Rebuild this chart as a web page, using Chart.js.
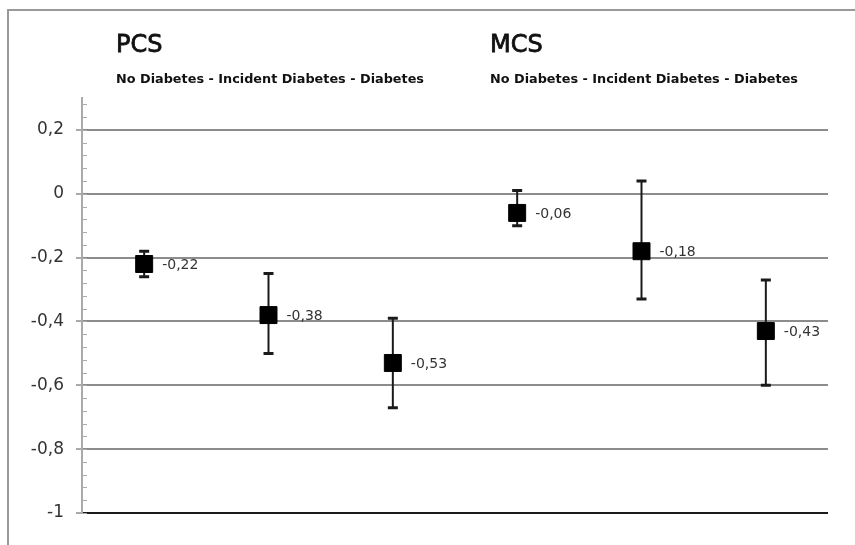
<!DOCTYPE html>
<html lang="en">
<head>
    <meta charset="UTF-8">
    <title>PCS / MCS by diabetes status</title>
    <script src="https://cdn.jsdelivr.net/npm/chart.js"></script>
    <style>
        html, body { margin: 0; padding: 0; background: #fff; }
        #wrap { width: 855px; height: 545px; }
    </style>
</head>
<body>
    <div id="wrap"><canvas id="chart" width="855" height="545"></canvas></div>

    <script>
        // groups shown above the plot
        var groups = ['PCS', 'MCS'];
        var groupSubtitle = 'No Diabetes - Incident Diabetes - Diabetes';

        // one point per group x status
        var categories = ['PCS No Diabetes', 'PCS Incident Diabetes', 'PCS Diabetes',
                          'MCS No Diabetes', 'MCS Incident Diabetes', 'MCS Diabetes'];
        var means = [-0.22, -0.38, -0.53, -0.06, -0.18, -0.43];
        var upper = [-0.18, -0.25, -0.39, 0.01, 0.04, -0.27];
        var lower = [-0.26, -0.50, -0.67, -0.10, -0.33, -0.60];

        // y axis
        var yTicks = [-1, -0.8, -0.6, -0.4, -0.2, 0, 0.2];
        var yMin = -1, yMax = 0.3, yMinorStep = 0.04;

        function fmt(v) {
            var s = (Math.abs(v) < 1e-9) ? '0' : String(Math.round(v * 100) / 100);
            return s.replace('.', ',');
        }

        var textFont = '"DejaVu Sans", Verdana, sans-serif';

        // error bars, value labels, minor ticks, titles and frame
        var extras = {
            id: 'extras',
            beforeDatasetsDraw: function(chart) {
                var ctx = chart.ctx, x = chart.scales.x, y = chart.scales.y;
                ctx.save();
                ctx.strokeStyle = '#1a1a1a';
                for (var i = 0; i < means.length; i++) {
                    var px = x.getPixelForValue(i);
                    var yt = y.getPixelForValue(upper[i]);
                    var yb = y.getPixelForValue(lower[i]);
                    ctx.lineWidth = 2;
                    ctx.beginPath();
                    ctx.moveTo(px, yt); ctx.lineTo(px, yb);
                    ctx.stroke();
                    ctx.lineWidth = 3;
                    ctx.beginPath();
                    ctx.moveTo(px - 5, yt); ctx.lineTo(px + 5, yt);
                    ctx.moveTo(px - 5, yb); ctx.lineTo(px + 5, yb);
                    ctx.stroke();
                }
                ctx.restore();
            },
            afterDraw: function(chart) {
                var ctx = chart.ctx, x = chart.scales.x, y = chart.scales.y;
                var area = chart.chartArea;
                ctx.save();

                // minor ticks on the y axis line
                ctx.strokeStyle = '#aaa';
                ctx.lineWidth = 1;
                ctx.beginPath();
                for (var v = yMin; v <= yMax + 1e-9; v += yMinorStep) {
                    var py = Math.round(y.getPixelForValue(v)) + 0.5;
                    ctx.moveTo(area.left, py); ctx.lineTo(area.left + 5, py);
                }
                ctx.stroke();

                // value labels next to markers
                ctx.fillStyle = '#333';
                ctx.font = '14px ' + textFont;
                ctx.textAlign = 'left';
                ctx.textBaseline = 'middle';
                for (var i = 0; i < means.length; i++) {
                    ctx.fillText(fmt(means[i]), x.getPixelForValue(i) + 18, y.getPixelForValue(means[i]) + 1);
                }

                // group titles (semi-bold look: regular + thin stroke)
                ctx.fillStyle = '#111';
                ctx.strokeStyle = '#111';
                ctx.textBaseline = 'alphabetic';
                var titleX = [116, 490];
                for (var g = 0; g < groups.length; g++) {
                    var mw = groups[g] === 'PCS' ? 47 : 56;
                    ctx.font = '24px ' + textFont;
                    ctx.lineWidth = 0.8;
                    ctx.fillText(groups[g], titleX[g], 52, mw);
                    ctx.strokeText(groups[g], titleX[g], 52, mw);
                    ctx.font = 'bold 13px ' + textFont;
                    ctx.fillText(groupSubtitle, titleX[g], 83, 308);
                }

                // outer frame (top and left edges)
                ctx.strokeStyle = '#9a9a9a';
                ctx.lineWidth = 2;
                ctx.beginPath();
                ctx.moveTo(8, 545); ctx.lineTo(8, 10); ctx.lineTo(855, 10);
                ctx.stroke();
                ctx.restore();
            }
        };

        var ctx = document.getElementById('chart').getContext('2d');
        var chart = new Chart(ctx, {
            type: 'line',
            data: {
                labels: categories,
                datasets: [{
                    data: means,
                    showLine: false,
                    pointStyle: 'rect',
                    pointRadius: 12,
                    pointHoverRadius: 12,
                    backgroundColor: '#000',
                    borderColor: '#000',
                    borderWidth: 1
                }]
            },
            options: {
                responsive: false,
                animation: false,
                events: [],
                layout: { padding: { top: 98, right: 27, bottom: 32, left: 0 } },
                plugins: { legend: { display: false }, tooltip: { enabled: false } },
                scales: {
                    x: {
                        type: 'category',
                        offset: true,
                        display: false
                    },
                    y: {
                        min: yMin,
                        max: yMax,
                        afterBuildTicks: function(scale) {
                            scale.ticks = yTicks.map(function(v) { return { value: v }; });
                        },
                        afterFit: function(scale) { scale.width = 82; },
                        ticks: {
                            callback: function(v) { return fmt(v); },
                            color: '#333',
                            padding: 12,
                            font: { family: textFont, size: 17 }
                        },
                        grid: {
                            lineWidth: 2,
                            tickLength: 6,
                            color: function(c) { return (c.tick && c.tick.value === -1) ? '#1a1a1a' : '#8c8c8c'; },
                            tickColor: '#aaa'
                        },
                        border: { display: true, color: '#aaa', width: 2 }
                    }
                }
            },
            plugins: [extras]
        });
    </script>
</body>
</html>
